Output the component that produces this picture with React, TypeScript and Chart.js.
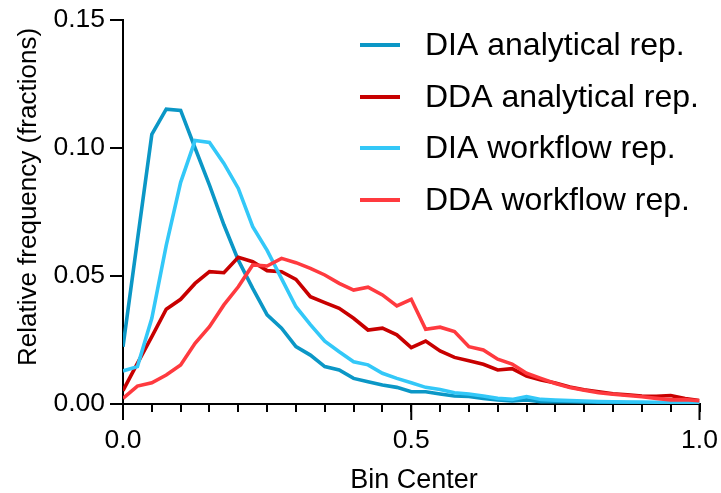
import React, { useEffect, useRef } from 'react';
import { Chart, registerables } from 'chart.js';

Chart.register(...registerables);

const binCenters = [
  0, 0.025, 0.05, 0.075, 0.1, 0.125, 0.15, 0.175, 0.2, 0.225,
  0.25, 0.275, 0.3, 0.325, 0.35, 0.375, 0.4, 0.425, 0.45, 0.475,
  0.5, 0.525, 0.55, 0.575, 0.6, 0.625, 0.65, 0.675, 0.7, 0.725,
  0.75, 0.775, 0.8, 0.825, 0.85, 0.875, 0.9, 0.925, 0.95, 0.975, 1.0,
];

const diaAnalytical = [
  0.0224, 0.064, 0.1053, 0.1152, 0.1147, 0.1, 0.0855, 0.07, 0.0562, 0.0452,
  0.0348, 0.0296, 0.0224, 0.0191, 0.0146, 0.0133, 0.01, 0.0087, 0.0074, 0.0065,
  0.0048, 0.0048, 0.0039, 0.0031, 0.0029, 0.0022, 0.0016, 0.0012, 0.0016, 0.0009,
  0.001, 0.0009, 0.0008, 0.0007, 0.0007, 0.0006, 0.0005, 0.0005, 0.0004, 0.0004, 0.0003,
];

const ddaAnalytical = [
  0.0052, 0.0159, 0.0263, 0.037, 0.0409, 0.0471, 0.0517, 0.0513, 0.0573, 0.0556,
  0.0521, 0.0517, 0.0487, 0.0419, 0.0396, 0.0374, 0.0335, 0.0289, 0.0296, 0.027,
  0.022, 0.0246, 0.0207, 0.0182, 0.0169, 0.0155, 0.0133, 0.0138, 0.0109, 0.0094,
  0.0082, 0.0066, 0.0056, 0.0048, 0.004, 0.0036, 0.0031, 0.003, 0.0033, 0.0021, 0.0014,
];

const diaWorkflow = [
  0.0129, 0.0146, 0.0335, 0.062, 0.0866, 0.1029, 0.1022, 0.094, 0.0842, 0.0693,
  0.06, 0.049, 0.038, 0.031, 0.0245, 0.0204, 0.0165, 0.0153, 0.012, 0.01,
  0.0083, 0.0065, 0.0057, 0.0044, 0.0039, 0.0031, 0.0022, 0.0018, 0.0029, 0.0018,
  0.0015, 0.0013, 0.0012, 0.001, 0.0009, 0.0008, 0.0008, 0.0007, 0.0006, 0.0006, 0.0005,
];

const ddaWorkflow = [
  0.0022, 0.007, 0.0083, 0.0113, 0.0152, 0.0237, 0.0302, 0.0387, 0.0458, 0.0543,
  0.0539, 0.0569, 0.0552, 0.053, 0.0504, 0.0471, 0.0445, 0.0456, 0.0426, 0.0383,
  0.0409, 0.0292, 0.03, 0.0283, 0.0224, 0.0211, 0.0175, 0.0156, 0.012, 0.01,
  0.008, 0.0064, 0.0054, 0.0044, 0.0038, 0.0033, 0.0028, 0.0022, 0.0016, 0.0017, 0.0013,
];

const seriesNames = [
  'DIA analytical rep.',
  'DDA analytical rep.',
  'DIA workflow rep.',
  'DDA workflow rep.',
];
const seriesColors = ['#0b97c6', '#c80000', '#33c8f8', '#ff3a3f'];
const seriesValues = [diaAnalytical, ddaAnalytical, diaWorkflow, ddaWorkflow];

const xMajorTicks = [0, 0.5, 1.0];
const xTitle = 'Bin Center';
const yTitle = 'Relative frequency (fractions)';

const FONT = '"Liberation Sans", Arial, sans-serif';

const overlayPlugin = {
  id: 'overlay',
  afterDraw(chart: any) {
    const ctx = chart.ctx;
    const xs = chart.scales.x;
    const ys = chart.scales.y;
    ctx.save();
    // major x ticks (longer)
    ctx.strokeStyle = '#000';
    ctx.lineWidth = 2;
    for (const v of xMajorTicks) {
      const px = xs.getPixelForValue(v);
      ctx.beginPath();
      ctx.moveTo(px, ys.bottom);
      ctx.lineTo(px, ys.bottom + 16);
      ctx.stroke();
    }
    // axis titles
    ctx.fillStyle = '#000';
    ctx.font = `27px ${FONT}`;
    ctx.textAlign = 'center';
    ctx.textBaseline = 'middle';
    ctx.fillText(xTitle, 414, 481);
    ctx.save();
    ctx.translate(29, 197);
    ctx.rotate(-Math.PI / 2);
    ctx.font = `26px ${FONT}`;
    ctx.fillText(yTitle, 0, 0);
    ctx.restore();
    // legend
    const legendY = [45, 97, 148, 200];
    ctx.font = `32px ${FONT}`;
    ctx.textAlign = 'left';
    for (let i = 0; i < seriesNames.length; i++) {
      ctx.strokeStyle = seriesColors[i];
      ctx.lineWidth = 4;
      ctx.beginPath();
      ctx.moveTo(360, legendY[i]);
      ctx.lineTo(400, legendY[i]);
      ctx.stroke();
      ctx.fillStyle = '#000';
      ctx.fillText(seriesNames[i], 425, legendY[i] + 1);
    }
    ctx.restore();
  },
};

export default function App() {
  const canvasRef = useRef<HTMLCanvasElement | null>(null);

  useEffect(() => {
    if (!canvasRef.current) return;
    const datasets = seriesValues.map((vals, i) => ({
      label: seriesNames[i],
      data: binCenters.map((x, j) => ({ x, y: vals[j] })),
      borderColor: seriesColors[i],
      backgroundColor: seriesColors[i],
      borderWidth: 3.6,
      pointRadius: 0,
      tension: 0,
      fill: false,
      order: seriesNames.length - i,
    }));
    const chart = new Chart(canvasRef.current, {
      type: 'line',
      data: { datasets },
      options: {
        animation: false,
        responsive: true,
        maintainAspectRatio: false,
        layout: { padding: { top: 20, right: 21.5, left: 0, bottom: 0 } },
        plugins: { legend: { display: false }, tooltip: { enabled: false } },
        scales: {
          x: {
            type: 'linear',
            min: 0,
            max: 1,
            afterFit: (s: any) => {
              s.height = 89;
              s.paddingLeft = 0;
              s.paddingRight = 0;
            },
            ticks: {
              stepSize: 0.05,
              autoSkip: false,
              maxRotation: 0,
              minRotation: 0,
              padding: 13,
              color: '#000',
              font: { family: FONT, size: 26.5 },
              callback: (v: any) => {
                const n = Number(v);
                return Math.abs(n * 2 - Math.round(n * 2)) < 1e-6 ? n.toFixed(1) : '';
              },
            },
            grid: {
              drawOnChartArea: false,
              drawTicks: true,
              tickLength: 8,
              color: '#000',
              lineWidth: 2,
            },
            border: { display: true, color: '#000', width: 2 },
          },
          y: {
            type: 'linear',
            min: 0,
            max: 0.15,
            afterFit: (s: any) => {
              s.width = 123;
              s.paddingTop = 0;
              s.paddingBottom = 0;
            },
            ticks: {
              stepSize: 0.05,
              padding: 5,
              color: '#000',
              font: { family: FONT, size: 26.5 },
              callback: (v: any) => Number(v).toFixed(2),
            },
            grid: {
              drawOnChartArea: false,
              drawTicks: true,
              tickLength: 13,
              color: '#000',
              lineWidth: 2,
            },
            border: { display: true, color: '#000', width: 2 },
          },
        },
      },
      plugins: [overlayPlugin],
    });
    return () => chart.destroy();
  }, []);

  return (
    <div style={{ position: 'fixed', left: 0, top: 0, width: 721, height: 493, background: '#fff' }}>
      <canvas ref={canvasRef} />
    </div>
  );
}
